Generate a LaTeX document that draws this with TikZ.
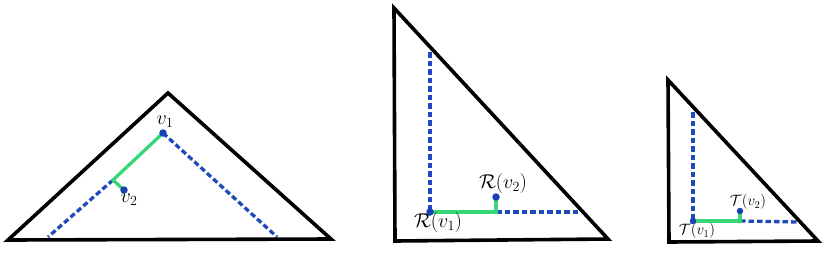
\documentclass[tikz,border=0pt]{standalone}
\usepackage{fix-cm}
\usepackage{amsmath}
\begin{document}
\begin{tikzpicture}[x=1pt,y=-1pt,
  tri/.style={line width=3.6pt,line join=miter,black},
  bluedash/.style={line width=3.3pt,draw={rgb,255:red,30;green,75;blue,185},dash pattern=on 5.5pt off 3pt},
  greenline/.style={line width=3.3pt,draw={rgb,255:red,55;green,215;blue,120}},
  dot/.style={circle,fill={rgb,255:red,25;green,65;blue,180},inner sep=0pt,minimum size=7.5pt},
  lab/.style={inner sep=0pt,font=\fontsize{20}{23}\selectfont},
  labs/.style={inner sep=0pt,font=\fontsize{15}{18}\selectfont}]
\useasboundingbox (0,0) rectangle (830,258);
% ---- triangle 1 ----
\coordinate (A1) at (8,240);
\coordinate (B1) at (168,93);
\coordinate (C1) at (331,239);
\coordinate (P1) at (163,133);
\coordinate (Q1) at (113,180);
\coordinate (L1) at (48,237);
\coordinate (R1) at (277,237);
\coordinate (V2) at (124,190);
\draw[bluedash] (Q1) -- (L1);
\draw[bluedash] (P1) -- (R1);
\draw[greenline] (P1) -- (Q1) -- (V2);
\draw[tri] (A1) -- (B1) -- (C1) -- cycle;
\node[dot] (v1) at (P1) {};
\node[dot] (v2) at (V2) {};
\node[lab] (lv1) at (165,122) {$v_1$};
\node[lab] (lv2) at (129,200) {$v_2$};
% ---- triangle 2 ----
\coordinate (A2) at (394,8);
\coordinate (B2) at (395,241);
\coordinate (C2) at (608,239);
\coordinate (T2) at (430,52);
\coordinate (P2) at (430,212);
\coordinate (Q2) at (496,212);
\coordinate (V22) at (496,197);
\coordinate (E2) at (580,212);
\draw[bluedash] (T2) -- (P2);
\draw[bluedash] (Q2) -- (E2);
\draw[greenline] (P2) -- (Q2) -- (V22);
\draw[tri] (A2) -- (B2) -- (C2) -- cycle;
\node[dot] (r1) at (P2) {};
\node[dot] (r2) at (V22) {};
\node[lab] (lr2) at (503,183) {$\mathcal{R}(v_2)$};
\node[lab] (lr1) at (438,222) {$\mathcal{R}(v_1)$};
% ---- triangle 3 ----
\coordinate (A3) at (668,80);
\coordinate (B3) at (669,242);
\coordinate (C3) at (818,241);
\coordinate (T3) at (693,112);
\coordinate (P3) at (693,221);
\coordinate (Q3) at (740,221);
\coordinate (V23) at (740,211);
\coordinate (E3) at (799,222);
\draw[bluedash] (T3) -- (P3);
\draw[bluedash] (Q3) -- (E3);
\draw[greenline] (P3) -- (Q3) -- (V23);
\draw[tri] (A3) -- (B3) -- (C3) -- cycle;
\node[dot,minimum size=6.5pt] (t1) at (P3) {};
\node[dot,minimum size=6.5pt] (t2) at (V23) {};
\node[labs] (lt2) at (748,202) {$\mathcal{T}(v_2)$};
\node[labs] (lt1) at (697,231) {$\mathcal{T}(v_1)$};
\end{tikzpicture}
\end{document}
